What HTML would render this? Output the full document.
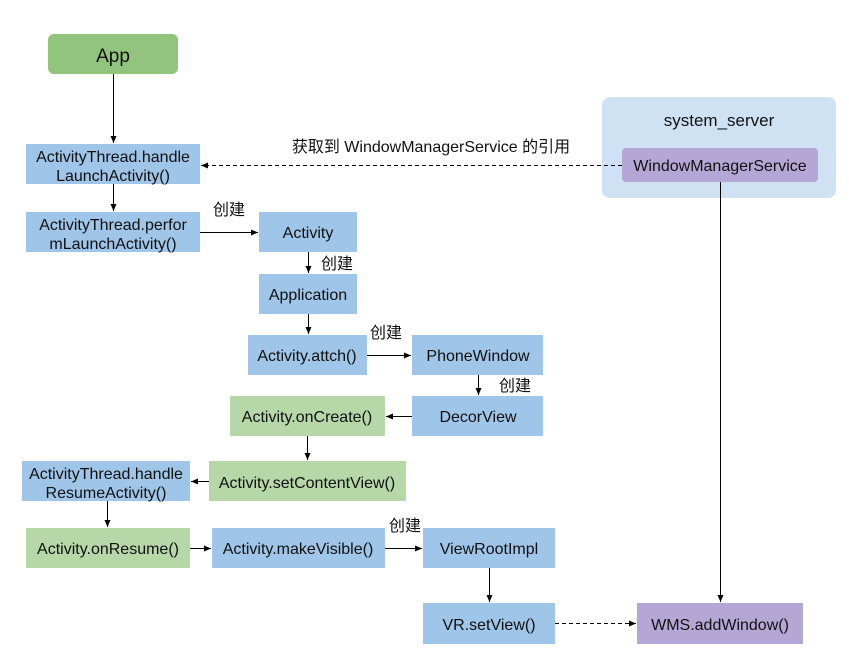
<!DOCTYPE html>
<html><head><meta charset="utf-8"><style>
body{margin:0;background:#fff}
text{font-family:"Liberation Sans","Noto Sans CJK SC",sans-serif;font-size:16px;fill:#111}
</style></head><body>
<svg width="849" height="662" viewBox="0 0 849 662" xmlns="http://www.w3.org/2000/svg">
<defs><marker id="a" markerWidth="8" markerHeight="8" refX="7" refY="3" orient="auto" markerUnits="userSpaceOnUse"><path d="M0,0 L7,3 L0,6 z" fill="#000"/></marker></defs>
<rect x="602" y="97" width="234" height="101" rx="8" fill="#cfe2f3"/>
<text x="719" y="126" text-anchor="middle" style="font-size:17px">system_server</text>
<rect x="622" y="148" width="196" height="34" rx="4" fill="#b4a7d6"/>
<text x="720" y="171" text-anchor="middle">WindowManagerService</text>
<rect x="48" y="34" width="130" height="40" rx="6" fill="#93c47d"/>
<text x="113" y="62" text-anchor="middle" style="font-size:19px">App</text>
<g fill="#9fc5e8">
<rect x="26" y="144" width="174" height="40"/><rect x="26" y="212" width="174" height="40"/>
<rect x="259" y="212" width="98" height="40"/><rect x="259" y="274" width="98" height="40"/>
<rect x="248" y="335" width="119" height="40"/><rect x="412" y="335" width="131" height="40"/>
<rect x="412" y="396" width="131" height="40"/><rect x="22" y="461" width="168" height="40"/>
<rect x="212" y="528" width="173" height="40"/><rect x="423" y="528" width="132" height="40"/>
<rect x="423" y="603" width="132" height="41"/></g>
<g fill="#b6d7a8"><rect x="230" y="396" width="155" height="40"/><rect x="209" y="461" width="197" height="40"/><rect x="26" y="528" width="164" height="40"/></g>
<rect x="637" y="603" width="166" height="41" fill="#b4a7d6"/>
<g text-anchor="middle">
<text x="113" y="162">ActivityThread.handle</text><text x="113" y="181">LaunchActivity()</text>
<text x="113" y="230">ActivityThread.perfor</text><text x="113" y="249">mLaunchActivity()</text>
<text x="308" y="238">Activity</text><text x="308" y="300">Application</text>
<text x="307" y="361">Activity.attch()</text><text x="478" y="361">PhoneWindow</text>
<text x="478" y="422">DecorView</text><text x="307" y="422">Activity.onCreate()</text>
<text x="307" y="488">Activity.setContentView()</text>
<text x="106" y="479">ActivityThread.handle</text><text x="106" y="498">ResumeActivity()</text>
<text x="108" y="554">Activity.onResume()</text><text x="298" y="554">Activity.makeVisible()</text>
<text x="489" y="554">ViewRootImpl</text><text x="489" y="630">VR.setView()</text>
<text x="720" y="630">WMS.addWindow()</text>
<text x="431" y="152">获取到 WindowManagerService 的引用</text>
</g>
<text x="213" y="215">创建</text><text x="321" y="269">创建</text><text x="370" y="338">创建</text>
<text x="499" y="391">创建</text><text x="389" y="531">创建</text>
<g stroke="#000" stroke-width="1" fill="none" marker-end="url(#a)">
<path d="M113.5 74V143"/><path d="M113.5 184V211"/><path d="M200 232.5H258"/>
<path d="M308.5 252V273"/><path d="M308.5 314V334"/><path d="M367 355.5H411"/>
<path d="M478.5 375V395"/><path d="M412 416.5H386"/><path d="M307.5 436V460"/>
<path d="M209 481.5H191"/><path d="M107.5 501V527"/><path d="M190 548.5H211"/>
<path d="M385 548.5H422"/><path d="M489.5 568V602"/><path d="M720.5 182V602"/>
<path d="M555 623.5H636" stroke-dasharray="4,3"/><path d="M622 165.5H201" stroke-dasharray="4,3"/>
</g>
</svg>
</body></html>
